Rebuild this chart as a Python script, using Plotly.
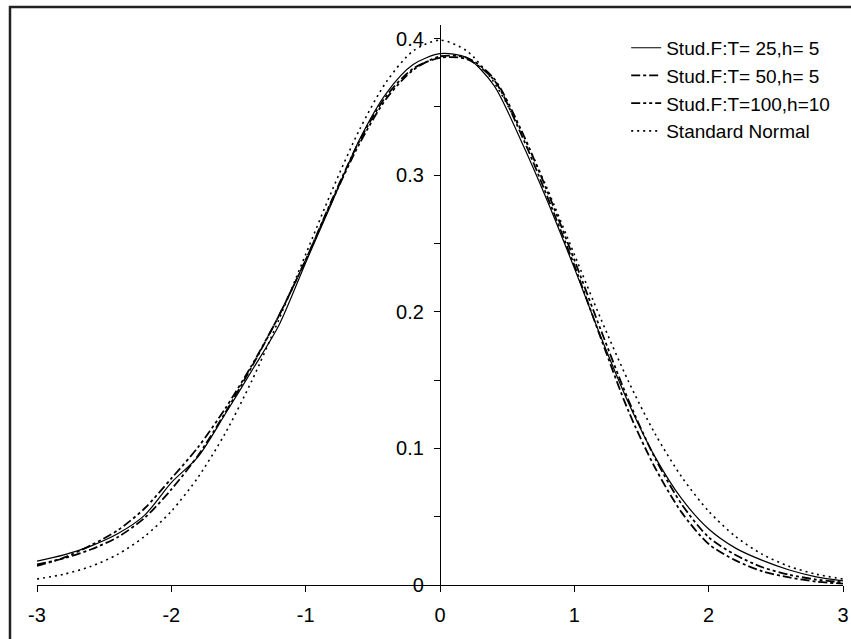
import plotly.graph_objects as go

# x grid (kernel density evaluation points)
x_vals = [-3.0, -2.8, -2.6, -2.4, -2.2, -2.0, -1.8, -1.6, -1.4, -1.2, -1.0,
          -0.8, -0.6, -0.4, -0.2, 0.0, 0.2, 0.4, 0.6, 0.8, 1.0,
          1.2, 1.4, 1.6, 1.8, 2.0, 2.2, 2.4, 2.6, 2.8, 3.0]

stud_t25_h5 = [0.0175, 0.0220, 0.0285, 0.0375, 0.0510, 0.0750, 0.0940, 0.1250, 0.1570, 0.1900, 0.2360,
               0.2810, 0.3260, 0.3600, 0.3810, 0.3890, 0.3860, 0.3660, 0.3260, 0.2810, 0.2320,
               0.1810, 0.1340, 0.0940, 0.0630, 0.0410, 0.0270, 0.0180, 0.0110, 0.0060, 0.0030]

stud_t50_h5 = [0.0150, 0.0195, 0.0260, 0.0350, 0.0490, 0.0700, 0.0950, 0.1260, 0.1600, 0.1970, 0.2380,
               0.2830, 0.3250, 0.3580, 0.3780, 0.3860, 0.3850, 0.3700, 0.3310, 0.2840, 0.2340,
               0.1800, 0.1280, 0.0860, 0.0530, 0.0300, 0.0180, 0.0100, 0.0055, 0.0025, 0.0010]

stud_t100_h10 = [0.0140, 0.0200, 0.0290, 0.0400, 0.0560, 0.0780, 0.1010, 0.1290, 0.1610, 0.1970, 0.2380,
                 0.2820, 0.3230, 0.3560, 0.3770, 0.3870, 0.3860, 0.3710, 0.3340, 0.2880, 0.2380,
                 0.1860, 0.1360, 0.0930, 0.0590, 0.0350, 0.0220, 0.0130, 0.0075, 0.0040, 0.0020]

std_normal = [0.0044, 0.0079, 0.0136, 0.0224, 0.0355, 0.0540, 0.0790, 0.1109, 0.1497, 0.1942, 0.2420,
              0.2897, 0.3332, 0.3683, 0.3910, 0.3989, 0.3910, 0.3683, 0.3332, 0.2897, 0.2420,
              0.1942, 0.1497, 0.1109, 0.0790, 0.0540, 0.0355, 0.0224, 0.0136, 0.0079, 0.0044]

series_names = ["Stud.F:T= 25,h= 5", "Stud.F:T= 50,h= 5", "Stud.F:T=100,h=10", "Standard Normal"]

x_ticks = [-3, -2, -1, 0, 1, 2, 3]
y_ticks = [0, 0.1, 0.2, 0.3, 0.4]
y_tick_labels = ["0", "0.1", "0.2", "0.3", "0.4"]

FONT = "Liberation Sans, Arial, sans-serif"

styles = [
    dict(color="black", width=1.2, dash="solid"),
    dict(color="black", width=1.8, dash="9px,3px,3px,3px"),
    dict(color="black", width=1.8, dash="9px,3px,3px,3px,3px,3px"),
    dict(color="black", width=1.6, dash="2px,4px"),
]

fig = go.Figure()
for i, (name, ys) in enumerate(zip(series_names, [stud_t25_h5, stud_t50_h5, stud_t100_h10, std_normal])):
    fig.add_trace(go.Scatter(
        x=x_vals, y=ys, mode="lines", name=name,
        line=dict(shape="spline", smoothing=0.8, **styles[i]),
    ))

fig.update_layout(
    width=851, height=639,
    margin=dict(l=37, r=8, t=25, b=54, autoexpand=False),
    paper_bgcolor="white", plot_bgcolor="white",
    font=dict(family=FONT, size=20, color="black"),
    showlegend=True,
    legend=dict(
        x=0.731, y=0.993, xanchor="left", yanchor="top",
        bgcolor="rgba(0,0,0,0)", borderwidth=0,
        font=dict(family=FONT, size=19, color="black"),
    ),
    xaxis=dict(
        range=[-3, 3], tickvals=x_ticks, ticktext=[str(v) for v in x_ticks],
        automargin=False,
        showgrid=False, zeroline=False, showline=True, linecolor="black", linewidth=1.2,
        ticks="outside", ticklen=6, tickcolor="black", tickwidth=1,
        tickfont=dict(family=FONT, size=20), ticklabelstandoff=6,
    ),
    yaxis=dict(
        range=[0, 0.41], tickvals=y_ticks, ticktext=y_tick_labels,
        anchor="free", position=0.5, automargin=False,
        showgrid=False, zeroline=False, showline=True, linecolor="black", linewidth=1.2,
        ticks="outside", ticklen=6, tickcolor="black", tickwidth=1,
        minor=dict(dtick=0.05, ticks="outside", ticklen=6, tickcolor="black", tickwidth=1, showgrid=False),
        tickfont=dict(family=FONT, size=20), ticklabelstandoff=6,
    ),
    shapes=[dict(
        type="rect", xref="paper", yref="paper",
        x0=-0.0335, x1=1.05, y0=-0.3, y1=1.032,
        line=dict(color="#222222", width=2.5), fillcolor="rgba(0,0,0,0)", layer="above",
    )],
)

fig.write_html(
    "out.html",
    config={"displayModeBar": False},
    post_script="document.body.style.margin='0px';document.body.style.overflow='hidden';",
)
